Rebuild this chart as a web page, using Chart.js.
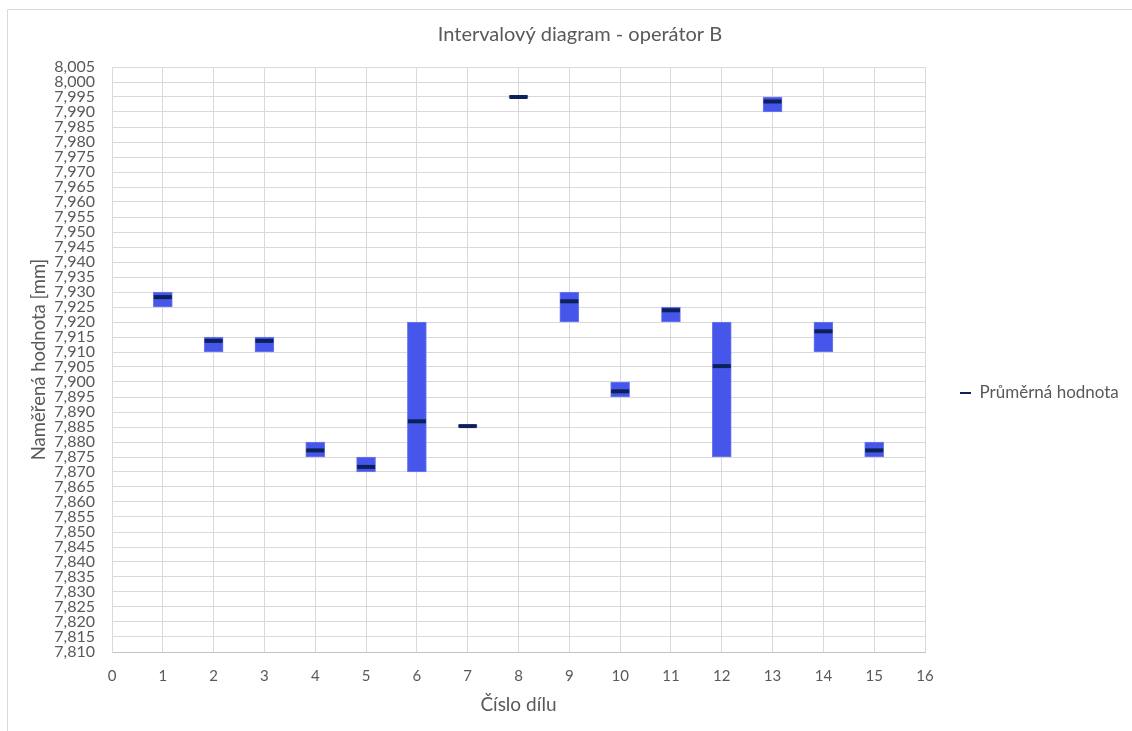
<!DOCTYPE html>
<html lang="cs">
<head>
<meta charset="utf-8">
<title>Intervalový diagram - operátor B</title>
<script src="https://cdn.jsdelivr.net/npm/chart.js@4.4.1/dist/chart.umd.min.js"></script>
<style>
  html, body { margin: 0; padding: 0; background: #ffffff; }
  #wrap { position: relative; width: 1132px; height: 731px; }
  canvas { display: block; }
</style>
</head>
<body>
<div id="wrap"><canvas id="chart" width="1132" height="731"></canvas></div>
<script>
// Číslo dílu (part number)
const parts = [1, 2, 3, 4, 5, 6, 7, 8, 9, 10, 11, 12, 13, 14, 15];
// Minimum and maximum measured values per part [mm]
const minValues = [7.925, 7.910, 7.910, 7.875, 7.870, 7.870, 7.8850, 7.9948, 7.920, 7.895, 7.920, 7.875, 7.990, 7.910, 7.875];
const maxValues = [7.930, 7.915, 7.915, 7.880, 7.875, 7.920, 7.8857, 7.9955, 7.930, 7.900, 7.925, 7.920, 7.995, 7.920, 7.880];
// Průměrná hodnota (mean) per part [mm]
const meanValues = [7.9283, 7.9137, 7.9137, 7.8772, 7.8717, 7.8869, 7.8853, 7.9950, 7.9269, 7.8969, 7.9239, 7.9053, 7.9935, 7.9169, 7.8772];
// Axis ranges / tick steps
const xTicks = { min: 0, max: 16, step: 1 };
const yTicks = { min: 7.810, max: 8.005, step: 0.005 };

const FONT = "Lato, 'Open Sans', 'DejaVu Sans', sans-serif";
const TEXT = '#595959';
const GRID = '#d9d9d9';
const NAVY = '#0b2157';

const rangeData = parts.map((p, i) => ({ x: p, y: [minValues[i], maxValues[i]] }));
const meanData = parts.map((p, i) => ({ x: p, y: meanValues[i] }));

// White background plus the thin outer frame of the chart object
const framePlugin = {
  id: 'frame',
  beforeDraw(chart) {
    const ctx = chart.ctx;
    ctx.save();
    ctx.fillStyle = '#ffffff';
    ctx.fillRect(0, 0, chart.width, chart.height);
    ctx.strokeStyle = '#d9d9d9';
    ctx.lineWidth = 1;
    ctx.beginPath();
    ctx.moveTo(7.5, chart.height + 5);
    ctx.lineTo(7.5, 9.5);
    ctx.lineTo(chart.width + 5, 9.5);
    ctx.stroke();
    ctx.restore();
  }
};

// Fixed width for the right-hand legend column
const legendWidthPlugin = {
  id: 'legendWidth',
  afterInit(chart) {
    const lg = chart.legend;
    if (!lg) return;
    const fit = lg.fit.bind(lg);
    lg.fit = function () {
      fit();
      this.width = 207;
    };
  }
};

new Chart(document.getElementById('chart'), {
  type: 'bar',
  data: {
    datasets: [
      {
        type: 'scatter',
        label: 'Průměrná hodnota',
        data: meanData,
        pointStyle: 'line',
        radius: 9,
        hoverRadius: 9,
        borderWidth: 4,
        borderColor: NAVY,
        backgroundColor: NAVY,
        order: 1
      },
      {
        type: 'bar',
        label: 'Rozsah',
        data: rangeData,
        backgroundColor: '#4756ea',
        borderColor: '#6f7cf0',
        borderWidth: 1,
        borderSkipped: false,
        barThickness: 19,
        order: 2
      }
    ]
  },
  options: {
    responsive: false,
    animation: false,
    events: [],
    layout: { padding: { left: 28, right: 0, top: 0, bottom: 0 } },
    plugins: {
      title: {
        display: true,
        text: 'Intervalový diagram - operátor B',
        color: TEXT,
        font: { family: FONT, size: 20, weight: 'normal', lineHeight: 1.2 },
        padding: { top: 23, bottom: 20 }
      },
      legend: {
        position: 'right',
        align: 'center',
        title: {
          display: true,
          text: ' ',
          font: { family: FONT, size: 10, lineHeight: 1 },
          padding: { top: 45, bottom: 0 }
        },
        labels: {
          color: TEXT,
          font: { family: FONT, size: 17 },
          usePointStyle: true,
          pointStyleWidth: 11,
          boxWidth: 11,
          boxHeight: 11,
          padding: 35,
          filter: (item) => item.datasetIndex === 0,
          generateLabels(chart) {
            const items = Chart.defaults.plugins.legend.labels.generateLabels(chart);
            items.forEach((it) => { it.lineWidth = 2; it.strokeStyle = NAVY; it.fillStyle = NAVY; });
            return items;
          }
        }
      },
      tooltip: { enabled: false }
    },
    scales: {
      x: {
        type: 'linear',
        min: xTicks.min,
        max: xTicks.max,
        offset: false,
        afterFit(scale) { scale.height = 79; },
        ticks: {
          stepSize: xTicks.step,
          color: TEXT,
          font: { family: FONT, size: 15 },
          padding: 15,
          maxRotation: 0,
          autoSkip: false
        },
        grid: { color: GRID, drawTicks: false, offset: false },
        border: { color: '#c4c4c4' },
        title: {
          display: true,
          text: 'Číslo dílu',
          color: TEXT,
          font: { family: FONT, size: 19, lineHeight: 1.2 },
          padding: { top: 0, bottom: 15 }
        }
      },
      y: {
        type: 'linear',
        min: yTicks.min,
        max: yTicks.max,
        afterFit(scale) { scale.width = 84; },
        ticks: {
          stepSize: yTicks.step,
          autoSkip: false,
          color: TEXT,
          font: { family: FONT, size: 16, lineHeight: 1 },
          padding: 17,
          callback: (v) => Number(v).toFixed(3).replace('.', ',')
        },
        grid: { color: GRID, drawTicks: false },
        border: { color: GRID },
        title: {
          display: true,
          text: 'Naměřená hodnota [mm]',
          color: TEXT,
          font: { family: FONT, size: 18.5, lineHeight: 1.2 },
          padding: 0
        }
      }
    }
  },
  plugins: [framePlugin, legendWidthPlugin]
});
</script>
</body>
</html>
